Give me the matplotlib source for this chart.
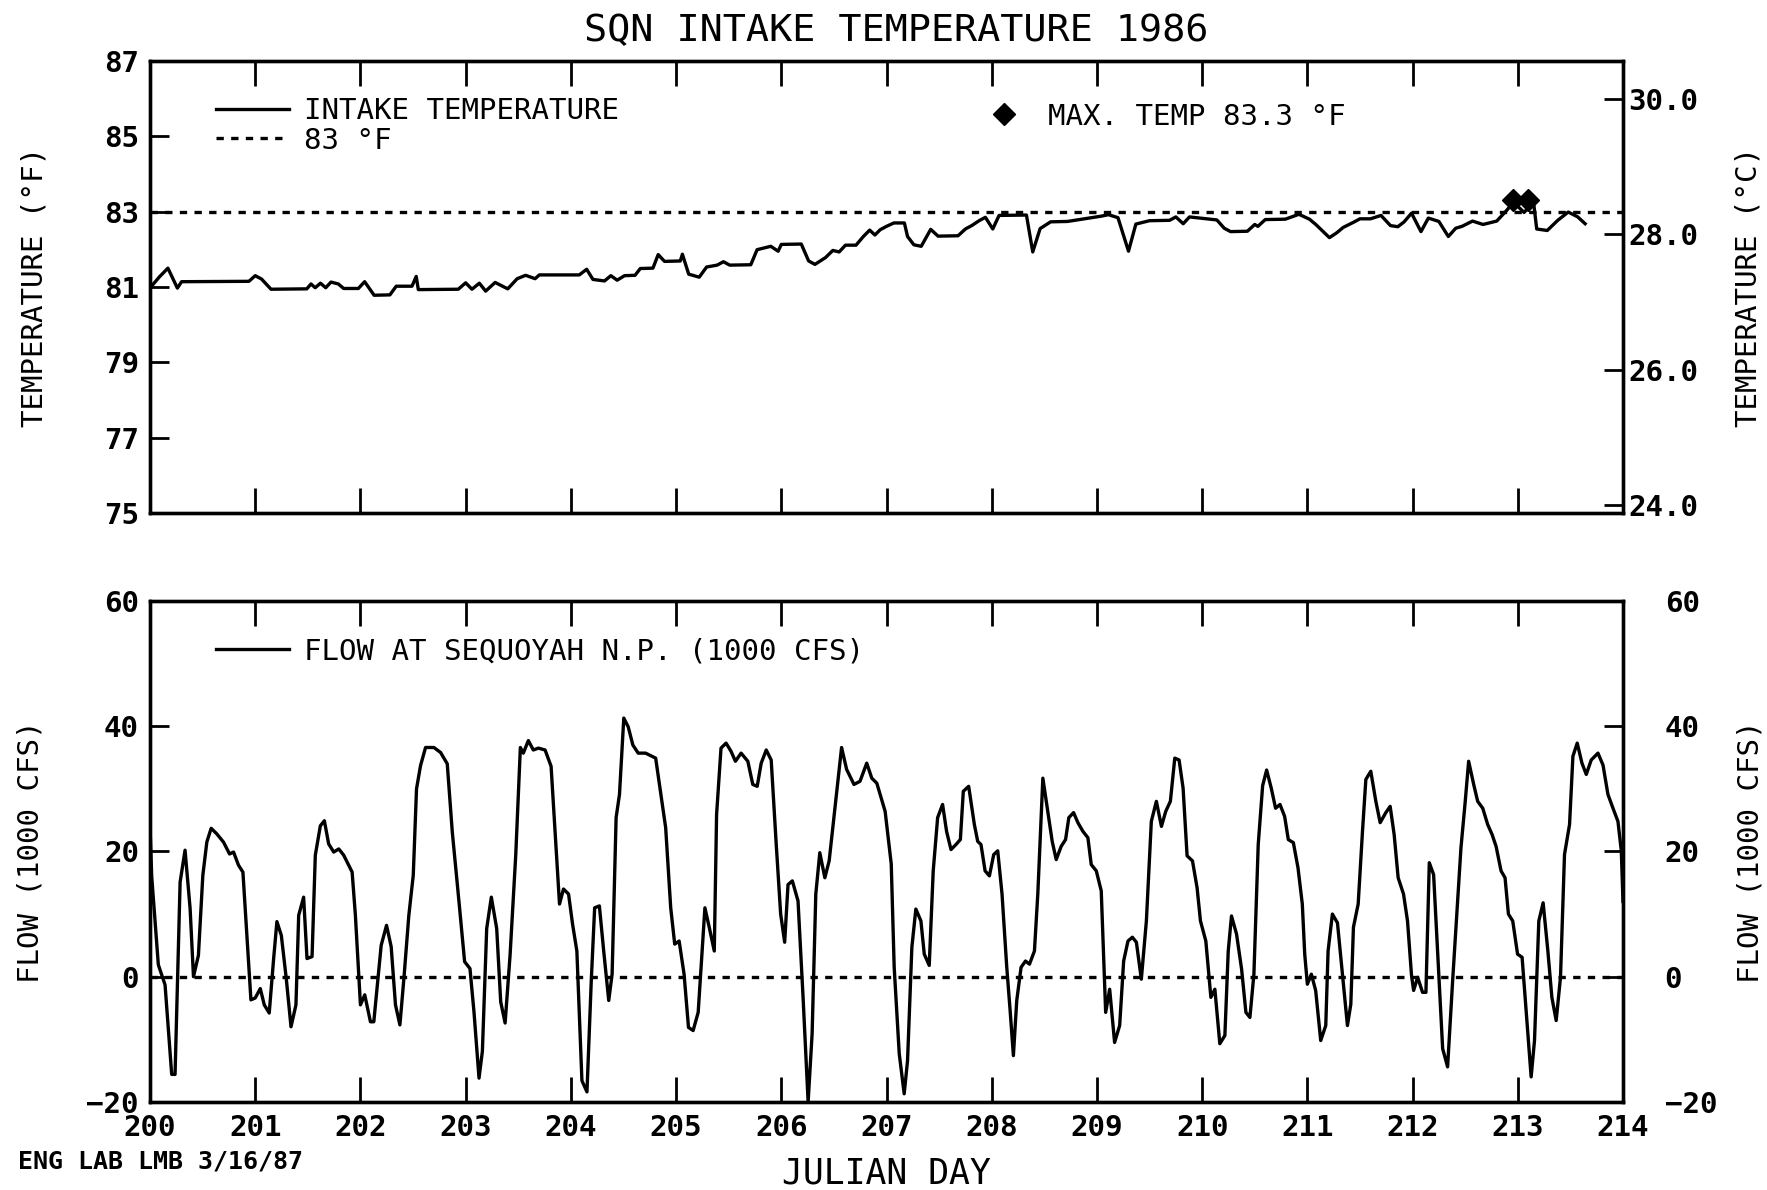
import matplotlib
matplotlib.use("Agg")
import matplotlib.pyplot as plt
from matplotlib.lines import Line2D
import numpy as np

plt.rcParams['font.family'] = ['DejaVu Sans Mono']

# intake temperature (deg F)
temp_day = [200.00, 200.02, 200.09, 200.17, 200.26, 200.30, 200.94, 201.00, 201.06, 201.15,
            201.49, 201.53, 201.57, 201.62, 201.67, 201.72, 201.79, 201.84, 201.98, 202.04,
            202.13, 202.28, 202.34, 202.49, 202.53, 202.55, 202.93, 203.00, 203.06, 203.13,
            203.19, 203.28, 203.40, 203.49, 203.57, 203.66, 203.70, 204.08, 204.15, 204.21,
            204.32, 204.38, 204.44, 204.51, 204.61, 204.66, 204.78, 204.83, 204.89, 205.04,
            205.06, 205.12, 205.22, 205.29, 205.39, 205.45, 205.51, 205.71, 205.77, 205.90,
            205.97, 206.00, 206.19, 206.26, 206.32, 206.42, 206.49, 206.55, 206.61, 206.71,
            206.78, 206.84, 206.89, 206.94, 207.00, 207.07, 207.17, 207.20, 207.26, 207.33,
            207.42, 207.49, 207.68, 207.75, 207.81, 207.88, 207.94, 208.01, 208.07, 208.33,
            208.39, 208.46, 208.56, 208.72, 209.04, 209.11, 209.20, 209.30, 209.37, 209.50,
            209.69, 209.75, 209.82, 209.88, 210.14, 210.21, 210.27, 210.43, 210.50, 210.53,
            210.60, 210.79, 210.92, 211.02, 211.08, 211.21, 211.28, 211.34, 211.44, 211.50,
            211.60, 211.70, 211.79, 211.86, 211.92, 211.99, 212.08, 212.15, 212.25, 212.34,
            212.41, 212.47, 212.57, 212.67, 212.80, 212.89, 212.96, 213.06, 213.15, 213.18,
            213.28, 213.38, 213.48, 213.57, 213.64]
temp_f = [81.10, 81.04, 81.27, 81.50, 80.97, 81.14, 81.15, 81.30, 81.21, 80.94,
          80.95, 81.08, 80.98, 81.10, 80.98, 81.13, 81.08, 80.96, 80.96, 81.14,
          80.78, 80.79, 81.02, 81.02, 81.28, 80.93, 80.94, 81.11, 80.94, 81.10,
          80.89, 81.12, 80.95, 81.22, 81.31, 81.22, 81.32, 81.32, 81.47, 81.20,
          81.16, 81.30, 81.18, 81.30, 81.31, 81.49, 81.50, 81.86, 81.68, 81.69,
          81.87, 81.34, 81.26, 81.53, 81.58, 81.67, 81.58, 81.59, 81.99, 82.08,
          81.95, 82.13, 82.14, 81.69, 81.60, 81.78, 81.97, 81.93, 82.11, 82.11,
          82.34, 82.51, 82.38, 82.52, 82.61, 82.70, 82.70, 82.34, 82.12, 82.08,
          82.53, 82.35, 82.36, 82.54, 82.63, 82.76, 82.85, 82.54, 82.90, 82.91,
          81.93, 82.55, 82.73, 82.74, 82.88, 82.92, 82.84, 81.95, 82.67, 82.76,
          82.77, 82.86, 82.68, 82.86, 82.78, 82.56, 82.47, 82.48, 82.66, 82.61,
          82.79, 82.80, 82.93, 82.80, 82.66, 82.31, 82.44, 82.58, 82.72, 82.81,
          82.81, 82.90, 82.63, 82.60, 82.73, 82.96, 82.47, 82.83, 82.74, 82.34,
          82.56, 82.61, 82.75, 82.66, 82.75, 83.02, 83.25, 82.98, 83.25, 82.54,
          82.50, 82.77, 82.99, 82.86, 82.68]

max_day = [212.95, 213.10]
max_temp = [83.3, 83.3]
limit_f = 83

# flow at Sequoyah N.P. (1000 cfs)
flow_day = [200.000, 200.016, 200.079, 200.143, 200.206, 200.238, 200.286, 200.333, 200.381, 200.413,
            200.460, 200.502, 200.540, 200.581, 200.635, 200.698, 200.756, 200.794, 200.841, 200.883,
            200.921, 200.959, 201.000, 201.048, 201.086, 201.133, 201.175, 201.206, 201.248, 201.295,
            201.340, 201.387, 201.413, 201.460, 201.492, 201.540, 201.571, 201.619, 201.657, 201.698,
            201.746, 201.794, 201.841, 201.921, 201.952, 202.000, 202.041, 202.095, 202.127, 202.197,
            202.248, 202.292, 202.333, 202.375, 202.413, 202.460, 202.502, 202.533, 202.571, 202.619,
            202.698, 202.762, 202.825, 202.873, 202.937, 202.990, 203.041, 203.079, 203.127, 203.159,
            203.200, 203.244, 203.295, 203.333, 203.375, 203.422, 203.476, 203.520, 203.548, 203.596,
            203.643, 203.691, 203.755, 203.812, 203.850, 203.892, 203.930, 203.978, 204.016, 204.057,
            204.105, 204.153, 204.194, 204.226, 204.271, 204.312, 204.360, 204.392, 204.430, 204.462,
            204.503, 204.545, 204.589, 204.640, 204.710, 204.806, 204.901, 204.949, 204.987, 205.029,
            205.076, 205.118, 205.162, 205.210, 205.274, 205.315, 205.363, 205.385, 205.427, 205.475,
            205.522, 205.564, 205.618, 205.682, 205.729, 205.771, 205.809, 205.857, 205.904, 205.952,
            205.994, 206.032, 206.064, 206.105, 206.159, 206.207, 206.255, 206.293, 206.328, 206.366,
            206.414, 206.455, 206.510, 206.573, 206.621, 206.691, 206.748, 206.812, 206.860, 206.908,
            206.987, 207.045, 207.073, 207.121, 207.168, 207.200, 207.241, 207.279, 207.327, 207.359,
            207.406, 207.444, 207.486, 207.533, 207.571, 207.613, 207.660, 207.702, 207.730, 207.781,
            207.835, 207.867, 207.898, 207.937, 207.978, 208.019, 208.057, 208.098, 208.143, 208.175,
            208.206, 208.238, 208.279, 208.321, 208.359, 208.406, 208.438, 208.486, 208.533, 208.575,
            208.613, 208.660, 208.702, 208.733, 208.778, 208.819, 208.867, 208.914, 208.946, 208.994,
            209.041, 209.083, 209.121, 209.168, 209.216, 209.254, 209.295, 209.337, 209.375, 209.422,
            209.470, 209.517, 209.565, 209.613, 209.654, 209.698, 209.740, 209.781, 209.819, 209.857,
            209.908, 209.952, 209.984, 210.035, 210.083, 210.121, 210.168, 210.216, 210.248, 210.279,
            210.327, 210.375, 210.416, 210.454, 210.492, 210.533, 210.575, 210.613, 210.657, 210.698,
            210.740, 210.784, 210.819, 210.867, 210.911, 210.952, 210.975, 211.000, 211.038, 211.079,
            211.127, 211.175, 211.197, 211.238, 211.286, 211.333, 211.381, 211.413, 211.438, 211.483,
            211.524, 211.556, 211.603, 211.651, 211.692, 211.746, 211.787, 211.825, 211.863, 211.914,
            211.952, 211.990, 212.010, 212.048, 212.095, 212.127, 212.159, 212.200, 212.238, 212.286,
            212.333, 212.381, 212.422, 212.460, 212.498, 212.533, 212.581, 212.619, 212.667, 212.714,
            212.756, 212.794, 212.841, 212.879, 212.911, 212.952, 212.998, 213.041, 213.079, 213.127,
            213.159, 213.200, 213.241, 213.286, 213.324, 213.365, 213.406, 213.444, 213.492, 213.524,
            213.565, 213.610, 213.651, 213.698, 213.762, 213.810, 213.857, 213.905, 213.952, 213.984,
            214.000]
flow_kcfs = [24.0, 16.0, 1.9, -1.3, -15.6, -15.6, 15.1, 20.2, 10.9, 0.0,
             3.4, 16.2, 21.5, 23.7, 22.8, 21.5, 19.6, 19.9, 17.8, 16.7,
             6.6, -3.7, -3.4, -1.9, -4.5, -5.8, 2.9, 8.8, 6.6, -0.3,
             -8.0, -4.5, 9.8, 12.7, 2.9, 3.2, 19.4, 24.1, 24.9, 21.2,
             19.9, 20.4, 19.4, 16.7, 9.8, -4.5, -2.9, -7.2, -7.2, 5.0,
             8.2, 4.8, -4.5, -7.7, -0.3, 9.8, 16.2, 30.0, 33.7, 36.6,
             36.6, 35.8, 34.0, 23.1, 11.9, 2.4, 1.3, -5.6, -16.2, -11.9,
             7.7, 12.7, 7.7, -4.0, -7.4, 3.4, 19.4, 36.6, 35.7, 37.7,
             36.2, 36.5, 36.2, 33.6, 23.2, 11.6, 14.0, 13.2, 8.4, 4.1,
             -16.6, -18.4, -0.6, 11.0, 11.3, 4.1, -3.8, 0.4, 25.4, 29.1,
             41.3, 39.9, 37.0, 35.7, 35.7, 34.9, 23.8, 11.0, 5.2, 5.7,
             0.4, -8.1, -8.6, -5.7, 11.0, 7.9, 4.1, 25.9, 36.5, 37.3,
             36.0, 34.4, 35.7, 34.4, 30.7, 30.4, 34.1, 36.2, 34.6, 21.1,
             10.0, 5.5, 14.7, 15.3, 12.1, -3.3, -20.0, -9.1, 13.2, 19.8,
             15.8, 18.5, 26.9, 36.6, 33.1, 30.7, 31.2, 34.1, 31.7, 30.9,
             26.4, 18.0, 1.5, -12.3, -18.7, -13.4, 4.7, 10.8, 8.9, 3.6,
             1.8, 16.9, 25.4, 27.5, 23.2, 20.3, 21.1, 21.9, 29.6, 30.4,
             24.3, 21.6, 21.1, 16.9, 16.1, 19.5, 20.1, 13.2, 1.5, -5.4,
             -12.6, -3.8, 1.5, 2.5, 2.0, 4.1, 13.2, 31.7, 26.4, 21.6,
             18.7, 20.8, 21.9, 25.4, 26.2, 24.6, 23.2, 22.2, 17.9, 16.9,
             13.7, -5.7, -2.0, -10.5, -7.8, 2.5, 5.7, 6.3, 5.5, -0.4,
             8.9, 24.8, 28.0, 24.0, 26.4, 28.0, 34.9, 34.6, 30.1, 19.3,
             18.5, 14.2, 8.9, 5.7, -3.3, -2.0, -10.7, -9.4, 4.1, 9.7,
             6.8, 1.2, -5.7, -6.5, 0.4, 21.1, 30.5, 33.0, 30.1, 26.9,
             27.5, 25.6, 21.9, 21.4, 17.4, 11.6, 3.6, -1.2, 0.4, -2.2,
             -10.2, -7.8, 4.1, 10.0, 8.6, 0.4, -7.8, -4.4, 7.9, 11.6,
             23.2, 31.5, 32.8, 28.0, 24.6, 26.2, 27.2, 22.7, 15.8, 13.2,
             8.9, 0.2, -2.2, -0.1, -2.5, -2.5, 18.2, 16.3, 4.1, -11.5,
             -14.4, -0.6, 10.5, 20.6, 27.5, 34.4, 30.7, 28.0, 26.9, 24.3,
             22.7, 20.8, 16.9, 15.8, 10.0, 8.9, 3.6, 3.1, -5.4, -16.0,
             -10.2, 8.9, 11.8, 4.1, -3.3, -7.0, -0.1, 19.5, 24.3, 35.2,
             37.3, 34.1, 32.3, 34.6, 35.7, 33.8, 29.1, 26.9, 24.8, 20.1,
             12.0]

days = np.arange(200, 215)
temp_f_ticks = [75, 77, 79, 81, 83, 85, 87]
temp_c_ticks = [24, 26, 28, 30]
flow_ticks = [-20, 0, 20, 40, 60]

lw = 2.4
dash = (0, (2.2, 2.2))
fs_tick = 21

fig = plt.figure(figsize=(17.67, 11.90), dpi=100)
ax1 = fig.add_axes([0.0849, 0.569, 0.8336, 0.3797])
ax2 = fig.add_axes([0.0849, 0.074, 0.8336, 0.421])

for ax in (ax1, ax2):
    for s in ax.spines.values():
        s.set_linewidth(lw)
    ax.set_xlim(200, 214)
    ax.set_xticks(days)
    ax.tick_params(axis='x', direction='in', length=18, width=2, top=True, bottom=True)
    ax.tick_params(axis='y', direction='in', length=14, width=2, labelsize=fs_tick, pad=8)

# --- temperature panel ---
ax1.plot(temp_day, temp_f, color='k', lw=lw, label='INTAKE TEMPERATURE')
ax1.axhline(limit_f, color='k', lw=lw, ls=dash, label='83 °F')
ax1.plot(max_day, max_temp, ls='none', marker='D', ms=11, color='k')
ax1.set_ylim(75, 87)
ax1.set_yticks(temp_f_ticks)
ax1.tick_params(axis='x', labelbottom=False)
ax1.set_ylabel('TEMPERATURE (°F)', fontsize=21, labelpad=40)

leg1 = ax1.legend(loc='upper left', bbox_to_anchor=(0.045, 0.92), frameon=False,
                  fontsize=21, handlelength=2.5, handletextpad=0.5, labelspacing=0.05,
                  borderpad=0, borderaxespad=0)
ax1.add_artist(leg1)
mk = Line2D([], [], ls='none', marker='D', ms=11, color='k')
ax1.legend([mk], ['MAX. TEMP 83.3 °F'], loc='upper left', bbox_to_anchor=(0.57, 0.908),
           frameon=False, fontsize=21, handlelength=1.0, handletextpad=1.0,
           borderpad=0, borderaxespad=0)

ax1r = ax1.twinx()
ax1r.set_ylim((75 - 32) * 5 / 9, (87 - 32) * 5 / 9)
ax1r.set_yticks(temp_c_ticks)
ax1r.set_yticklabels(['%.1f' % t for t in temp_c_ticks])
ax1r.tick_params(axis='y', direction='in', length=14, width=2, labelsize=fs_tick, pad=4)
for s in ax1r.spines.values():
    s.set_linewidth(lw)
ax1r.set_ylabel('TEMPERATURE (°C)', fontsize=21, rotation=90, labelpad=26)

# --- flow panel ---
ax2.plot(flow_day, flow_kcfs, color='k', lw=lw, label='FLOW AT SEQUOYAH N.P. (1000 CFS)')
ax2.axhline(0, color='k', lw=lw, ls=dash)
ax2.set_ylim(-20, 60)
ax2.set_yticks(flow_ticks)
ax2.set_xticklabels([str(d) for d in days])
ax2.tick_params(axis='x', labelsize=fs_tick, pad=9)
for t in ax2.get_xticklabels() + ax2.get_yticklabels() + ax1.get_yticklabels() + ax1r.get_yticklabels():
    t.set_fontweight('bold')
ax2.set_ylabel('FLOW (1000 CFS)', fontsize=21, labelpad=30)
ax2.set_xlabel('JULIAN DAY', fontsize=25, labelpad=10)
ax2.legend(loc='upper left', bbox_to_anchor=(0.045, 0.928), frameon=False,
           fontsize=21, handlelength=2.5, handletextpad=0.5, borderpad=0, borderaxespad=0)

ax2r = ax2.twinx()
ax2r.set_ylim(-20, 60)
ax2r.set_yticks(flow_ticks)
ax2r.tick_params(axis='y', direction='in', length=14, width=2, labelsize=fs_tick, pad=30)
for t in ax2r.get_yticklabels():
    t.set_fontweight('bold')
for s in ax2r.spines.values():
    s.set_linewidth(lw)
ax2r.set_ylabel('FLOW (1000 CFS)', fontsize=21, rotation=90, labelpad=14)

fig.text(0.507, 0.974, 'SQN INTAKE TEMPERATURE 1986', ha='center', va='center', fontsize=27.7)
fig.text(0.010, 0.024, 'ENG LAB LMB 3/16/87', ha='left', va='center', fontsize=18,
         fontweight='bold')

fig.savefig('out.png', dpi=100)
